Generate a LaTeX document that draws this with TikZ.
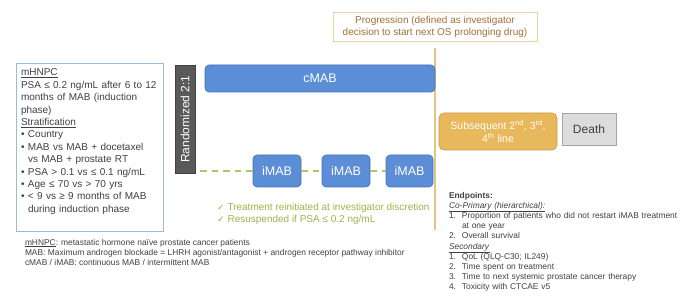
\documentclass[tikz,border=0pt]{standalone}
\usepackage{fontspec}
\setmainfont{Liberation Sans}
\newfontfamily\dejavu{DejaVu Sans}
\definecolor{txt}{HTML}{404040}
\definecolor{boxblue}{HTML}{5B8ED6}
\definecolor{boxblueedge}{HTML}{4273B8}
\definecolor{critedge}{HTML}{9DBBD9}
\definecolor{randgray}{HTML}{595959}
\definecolor{tan}{HTML}{E2C483}
\definecolor{tanedge}{HTML}{E8D49A}
\definecolor{tantext}{HTML}{A0703A}
\definecolor{gold}{HTML}{E8B85C}
\definecolor{goldedge}{HTML}{C99A3E}
\definecolor{deathfill}{HTML}{DCDCDC}
\definecolor{deathedge}{HTML}{A5A5A5}
\definecolor{olive}{HTML}{9DB548}
\definecolor{dashgreen}{HTML}{B2C46A}
\begin{document}
\begin{tikzpicture}[x=1pt,y=-1pt,
  every node/.style={outer sep=0pt},
  armbox/.style={draw=boxblueedge, fill=boxblue, rounded corners=4pt, line width=0.6pt,
    text=white, font=\fontsize{12.5}{14}\selectfont, anchor=north west, inner sep=0pt},
  textblock/.style={anchor=north west, inner sep=0pt, align=left, text=txt},
  dashconn/.style={draw=dashgreen, line width=1.3pt, dash pattern=on 6.5pt off 5pt}
]
\useasboundingbox[fill=white] (0,0) rectangle (680,299);

% Progression box and line
\node[draw=tanedge, line width=0.8pt, anchor=north west, minimum width=204, minimum height=29,
  text=tantext, align=center, font=\fontsize{10}{12}\selectfont, inner sep=0pt] (prog) at (333,12)
  {Progression (defined as investigator\\decision to start next OS prolonging drug)};
\coordinate (ptop) at (435,48);
\coordinate (pbot) at (435,230);
\draw[tan, line width=1.3pt] (ptop) -- (pbot);

% Criteria box
\node[draw=critedge, line width=1pt, anchor=north west, minimum width=147, minimum height=168] (crit) at (16,64) {};
\node[textblock, text width=145pt, font=\fontsize{10}{12.4}\selectfont] (crittext) at (21,69)
{\underline{mHNPC}\\
PSA ≤ 0.2 ng/mL after 6 to 12\\
months of MAB (induction\\
phase)\\
\underline{Stratification}\\
\makebox[7pt][l]{•}Country\\
\makebox[7pt][l]{•}MAB vs MAB + docetaxel\\
\hspace*{7pt}vs MAB + prostate RT\\
\makebox[7pt][l]{•}PSA > 0.1 vs ≤ 0.1 ng/mL\\
\makebox[7pt][l]{•}Age ≤ 70 vs > 70 yrs\\
\makebox[7pt][l]{•}< 9 vs ≥ 9 months of MAB\\
\hspace*{7pt}during induction phase};

% Randomized bar
\node[draw=black!75, fill=randgray, anchor=north west, minimum width=20, minimum height=108, inner sep=0pt] (rand) at (175,65) {};
\node[rotate=90, text=white, font=\fontsize{12}{14}\selectfont, inner sep=0pt] (randtext) at (rand.center) {Randomized 2:1};

% cMAB arm
\node[armbox, minimum width=230, minimum height=27] (cmab) at (205,65) {cMAB};

% iMAB arm
\node[armbox, minimum width=48, minimum height=32] (i1) at (253,155) {iMAB};
\node[armbox, minimum width=48, minimum height=32] (i2) at (322,155) {iMAB};
\node[armbox, minimum width=47, minimum height=32] (i3) at (386,155) {iMAB};
\coordinate (dstart) at (200,171);
\draw[dashconn] (dstart) -- (i1.west);
\draw[dashconn] (i1.east) -- (i2.west);
\draw[dashconn] (i2.east) -- (i3.west);

% Checks
\node[textblock, text=olive, font=\fontsize{10}{12}\selectfont] (checks) at (217,203)
{{\dejavu\fontsize{9}{12}\selectfont ✓}\hspace{3pt}Treatment reinitiated at investigator discretion\\
{\dejavu\fontsize{9}{12}\selectfont ✓}\hspace{3pt}Resuspended if PSA ≤ 0.2 ng/mL};

% Subsequent and Death
\node[draw=goldedge, fill=gold, rounded corners=5pt, line width=0.6pt, anchor=north west,
  minimum width=118, minimum height=37, text=white, align=center, inner sep=0pt,
  font=\fontsize{10.5}{12.5}\selectfont] (subs) at (439,113)
  {Subsequent 2\textsuperscript{nd}, 3\textsuperscript{rd},\\4\textsuperscript{th} line};
\node[draw=deathedge, fill=deathfill, line width=0.6pt, anchor=north west, minimum width=54,
  minimum height=32, text=txt, inner sep=0pt, font=\fontsize{12}{14}\selectfont] (death) at (562,113) {Death};

% Endpoints
\node[textblock, text width=240pt, font=\fontsize{8.4}{10.2}\selectfont] (endp) at (449,192)
{\textbf{Endpoints:}\\
\underline{\textit{Co-Primary (hierarchical):}}\\
\makebox[13pt][l]{1.}Proportion of patients who did not restart iMAB treatment\\
\hspace*{13pt}at one year\\
\makebox[13pt][l]{2.}Overall survival\\
\underline{\textit{Secondary}}\\
\makebox[13pt][l]{1.}QoL (QLQ-C30; IL249)\\
\makebox[13pt][l]{2.}Time spent on treatment\\
\makebox[13pt][l]{3.}Time to next systemic prostate cancer therapy\\
\makebox[13pt][l]{4.}Toxicity with CTCAE v5};

% Footnote
\node[textblock, font=\fontsize{8.4}{10}\selectfont] (foot) at (25,239)
{\underline{mHNPC}: metastatic hormone naïve prostate cancer patients\\
MAB: Maximum androgen blockade = LHRH agonist/antagonist + androgen receptor pathway inhibitor\\
cMAB / iMAB: continuous MAB / intermittent MAB};
\end{tikzpicture}
\end{document}
